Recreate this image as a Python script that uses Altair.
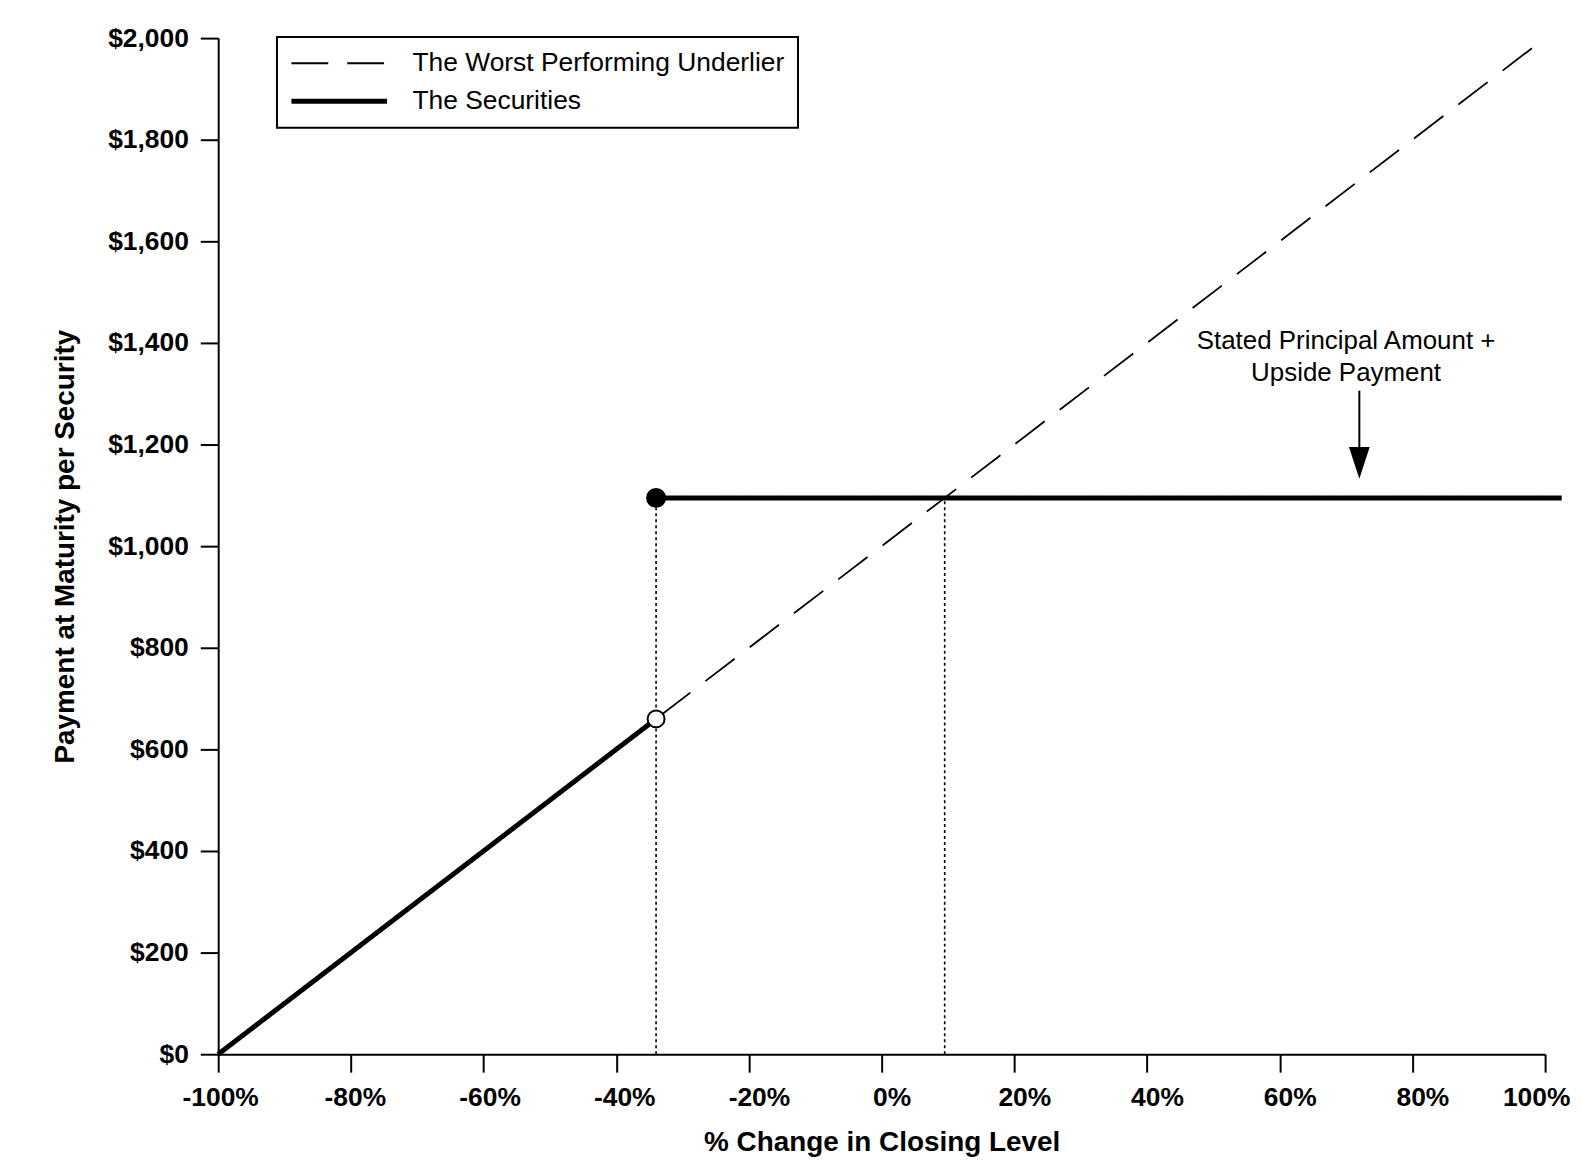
import altair as alt
import pandas as pd

# ---- data ----
series_names = ["The Worst Performing Underlier", "The Securities"]

line_series = ["The Worst Performing Underlier", "The Worst Performing Underlier",
               "The Securities", "The Securities", "The Securities", "The Securities"]
line_segment = ["u", "u", "s1", "s1", "s2", "s2"]
line_x = [-100, 100, -100, -34, -34, 102.5]
line_y = [0, 2000, 0, 660, 1095, 1095]
line_order = [0, 1, 0, 1, 0, 1]

dot_x = [-34, -34]
dot_y = [1095, 660]
dot_kind = ["filled", "open"]

guide_x = [-34, 9.5]
guide_y0 = [0, 0]
guide_y1 = [1095, 1095]

ann_lines = ["Stated Principal Amount +", "Upside Payment"]
ann_x = [70, 70]
ann_y = [1404, 1341]

arrow_x = [72]
arrow_y0 = [1306]
arrow_y1 = [1194]
arrow_head_y = [1164]

x_ticks = [-100, -80, -60, -40, -20, 0, 20, 40, 60, 80, 100]
y_ticks = [0, 200, 400, 600, 800, 1000, 1200, 1400, 1600, 1800, 2000]

FONT = "Liberation Sans"

lines_df = pd.DataFrame({"series": line_series, "segment": line_segment,
                         "x": line_x, "y": line_y, "order": line_order})
dots_df = pd.DataFrame({"x": dot_x, "y": dot_y, "kind": dot_kind})
guides_df = pd.DataFrame({"x": guide_x, "y0": guide_y0, "y1": guide_y1})
ann_df = pd.DataFrame({"x": ann_x, "y": ann_y, "t": ann_lines})
arrow_df = pd.DataFrame({"x": arrow_x, "y0": arrow_y0, "y1": arrow_y1, "yh": arrow_head_y})

xscale = alt.Scale(domain=[-100, 100], nice=False, zero=False)
yscale = alt.Scale(domain=[0, 2000], nice=False)

xaxis = alt.Axis(values=x_ticks, labelExpr="datum.value + '%'", labelFlush=False,
                 labelOffset={"expr": "datum.value == 100 ? -9 : min(10, 2 + (datum.value + 100) * 0.1)"},
                 title="% Change in Closing Level", labelPadding=12, titlePadding=18)
yaxis = alt.Axis(values=y_ticks, labelExpr="'$' + format(datum.value, ',')",
                 title="Payment at Maturity per Security", labelPadding=12, titlePadding=28)

legend = alt.Legend(orient="none", legendX=59, legendY=-1, title=None,
                    symbolType="M-4,0L4,0", symbolSize=576, symbolStrokeColor="black",
                    symbolOffset=35, labelOffset=59,
                    labelFontSize=26.5, labelFont=FONT, labelColor="black", labelLimit=0,
                    strokeColor="black", fillColor="white", padding=13, rowPadding=10)

guides = alt.Chart(guides_df).mark_rule(color="black", strokeWidth=1.6, strokeDash=[3, 3]).encode(
    x=alt.X("x:Q", scale=xscale, axis=xaxis),
    y=alt.Y("y0:Q", scale=yscale, axis=yaxis),
    y2="y1:Q",
)

lines = alt.Chart(lines_df).mark_line(color="black").encode(
    x=alt.X("x:Q", scale=xscale, axis=xaxis),
    y=alt.Y("y:Q", scale=yscale, axis=yaxis),
    detail="segment:N",
    order="order:Q",
    strokeDash=alt.StrokeDash("series:N",
                              scale=alt.Scale(domain=series_names, range=[[37, 19], [1, 0]]),
                              legend=legend),
    strokeWidth=alt.StrokeWidth("series:N",
                                scale=alt.Scale(domain=series_names, range=[1.8, 5]),
                                legend=legend),
)

dots = alt.Chart(dots_df).mark_point(filled=True, strokeWidth=2, opacity=1).encode(
    x="x:Q",
    y="y:Q",
    fill=alt.Fill("kind:N", scale=alt.Scale(domain=["filled", "open"], range=["black", "white"]), legend=None),
    stroke=alt.value("black"),
    size=alt.Size("kind:N", scale=alt.Scale(domain=["filled", "open"], range=[324, 289]), legend=None),
    shape=alt.value("circle"),
)

ann = alt.Chart(ann_df).mark_text(font=FONT, fontSize=26, color="black", align="center",
                                  baseline="middle").encode(
    x="x:Q", y="y:Q", text="t:N")

arrow_shaft = alt.Chart(arrow_df).mark_rule(color="black", strokeWidth=2).encode(
    x="x:Q", y="y0:Q", y2="y1:Q")

arrow_head = alt.Chart(arrow_df).mark_point(filled=True, color="black", opacity=1,
                                            shape="M-0.65,-1L0.65,-1L0,1Z", size=1024).encode(
    x="x:Q", y="yh:Q")

chart = alt.layer(guides, lines, dots, ann, arrow_shaft, arrow_head).properties(
    width=1332, height=1020,
    autosize=alt.AutoSizeParams(type="none"),
    padding={"left": 211, "top": 28, "right": 28, "bottom": 110},
).configure_view(stroke=None).configure_axis(
    grid=False, domainColor="black", domainWidth=2, tickColor="black", tickWidth=2,
    tickSize=18, labelFont=FONT, labelFontSize=26.5, labelFontWeight="bold", labelColor="black",
    titleFont=FONT, titleFontSize=28, titleFontWeight="bold", titleColor="black",
).configure_legend(strokeWidth=2)

chart.save("out.html", embed_options={"renderer": "svg", "actions": False})
